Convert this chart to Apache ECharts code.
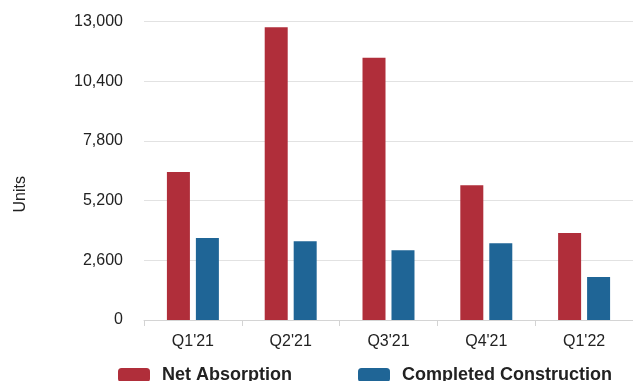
<!DOCTYPE html>
<html>
<head>
<meta charset="utf-8">
<script src="https://cdn.jsdelivr.net/npm/echarts@6/dist/echarts.min.js"></script>
<style>
  html, body { margin: 0; padding: 0; background: #fff; }
  #chart { width: 633px; height: 381px; }
</style>
</head>
<body>
<div id="chart"></div>
<script>
// quarters on x axis
var quarters = ["Q1'21", "Q2'21", "Q3'21", "Q4'21", "Q1'22"];
// units
var netAbsorption = [6450, 12750, 11420, 5870, 3790];
var completedConstruction = [3570, 3430, 3040, 3340, 1870];

var red = '#b02e3a';
var blue = '#1f6596';
var font = 'Liberation Sans, Arial, sans-serif';

var myChart = echarts.init(document.getElementById('chart'));

var legendText = { fontFamily: font, fontSize: 18, fontWeight: 'bold', color: '#222', padding: [0, 0, 0, 7] };

var option = {
    animation: false,
    grid: { left: 144, right: -1, top: 21.5, bottom: 61 },
    legend: [
        { data: ['Net Absorption'], left: 118, top: 366, itemWidth: 32, itemHeight: 14,
          itemStyle: { borderRadius: 2 }, textStyle: legendText, padding: 0 },
        { data: ['Completed Construction'], left: 358, top: 366, itemWidth: 32, itemHeight: 14,
          itemStyle: { borderRadius: 2 }, textStyle: legendText, padding: 0 }
    ],
    graphic: [{
        type: 'text', left: 13, top: 176, rotation: Math.PI / 2,
        style: { text: 'Units', font: '16px ' + font, fill: '#222' }
    }],
    xAxis: {
        type: 'category',
        data: quarters,
        axisLine: { lineStyle: { color: '#d4d4d4', width: 1 } },
        axisTick: { show: true, length: 6, lineStyle: { color: '#d4d4d4' } },
        axisLabel: { fontFamily: font, fontSize: 16, color: '#222', margin: 14 }
    },
    yAxis: {
        type: 'value',
        min: 0,
        max: 13000,
        interval: 2600,
        axisLine: { show: false },
        axisTick: { show: false },
        splitLine: { lineStyle: { color: '#e2e2e2', width: 1 } },
        axisLabel: {
            fontFamily: font, fontSize: 16, color: '#222', margin: 21,
            formatter: function (v) { return v.toLocaleString('en-US'); }
        }
    },
    series: [
        { name: 'Net Absorption', type: 'bar', data: netAbsorption, barWidth: 23, barGap: '26%',
          itemStyle: { color: red } },
        { name: 'Completed Construction', type: 'bar', data: completedConstruction, barWidth: 23,
          itemStyle: { color: blue } }
    ]
};

myChart.setOption(option);
</script>
</body>
</html>
